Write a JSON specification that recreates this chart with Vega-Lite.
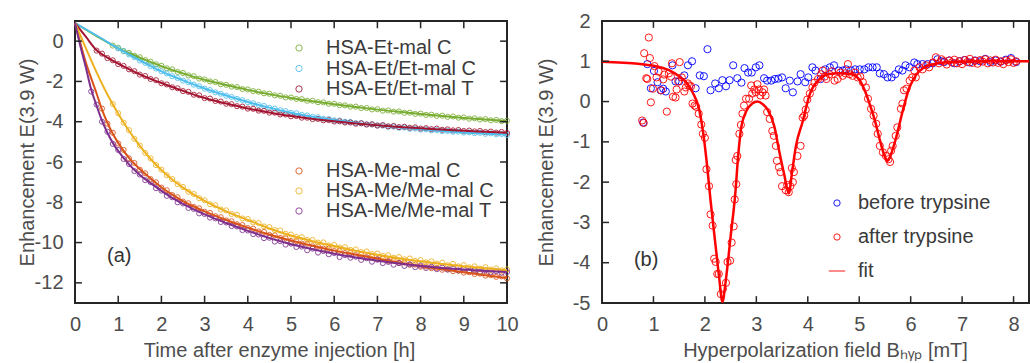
{
"$schema": "https://vega.github.io/schema/vega-lite/v6.json",
"padding": {"left": 16, "top": 10, "right": 0, "bottom": 0},
"spacing": 15,
"resolve": {"scale": {"color": "independent", "stroke": "independent", "shape": "independent", "strokeWidth": "independent"}},
"config": {
  "font": "Liberation Sans",
  "view": {"stroke": "#262626", "strokeWidth": 2},
  "axis": {"grid": false, "domain": false, "ticks": false, "labelFontSize": 20, "labelColor": "#4d4d4d", "titleFontSize": 20, "titleFontWeight": "normal", "titleColor": "#4d4d4d", "labelFlush": false, "labelOverlap": false, "labelBound": false},
  "axisX": {"labelPadding": 11},
  "axisY": {"labelPadding": 12},
  "legend": {"labelFontSize": 20, "labelColor": "#3a3a3a", "labelLimit": 300, "padding": 0}
},
"datasets": {
  "xt_a": [{"t":1},{"t":2},{"t":3},{"t":4},{"t":5},{"t":6},{"t":7},{"t":8},{"t":9}],
  "yt_a": [{"v":-12},{"v":-10},{"v":-8},{"v":-6},{"v":-4},{"v":-2},{"v":0}],
  "xt_b": [{"B":1},{"B":2},{"B":3},{"B":4},{"B":5},{"B":6},{"B":7},{"B":8}],
  "yt_b": [{"v":-4},{"v":-3},{"v":-2},{"v":-1},{"v":0},{"v":1}],
  "et": [
    {"s":"HSA-Et-mal C","t":0.875,"v":-0.22},{"s":"HSA-Et-mal C","t":1.0,"v":-0.33},{"s":"HSA-Et-mal C","t":1.125,"v":-0.49},{"s":"HSA-Et-mal C","t":1.25,"v":-0.58},{"s":"HSA-Et-mal C","t":1.375,"v":-0.72},{"s":"HSA-Et-mal C","t":1.5,"v":-0.80},{"s":"HSA-Et-mal C","t":1.625,"v":-0.94},{"s":"HSA-Et-mal C","t":1.75,"v":-1.02},{"s":"HSA-Et-mal C","t":1.875,"v":-1.15},{"s":"HSA-Et-mal C","t":2.0,"v":-1.22},{"s":"HSA-Et-mal C","t":2.125,"v":-1.35},{"s":"HSA-Et-mal C","t":2.25,"v":-1.40},{"s":"HSA-Et-mal C","t":2.375,"v":-1.53},{"s":"HSA-Et-mal C","t":2.5,"v":-1.58},{"s":"HSA-Et-mal C","t":2.625,"v":-1.70},{"s":"HSA-Et-mal C","t":2.75,"v":-1.74},{"s":"HSA-Et-mal C","t":2.875,"v":-1.86},{"s":"HSA-Et-mal C","t":3.0,"v":-1.90},{"s":"HSA-Et-mal C","t":3.125,"v":-2.00},{"s":"HSA-Et-mal C","t":3.25,"v":-2.03},{"s":"HSA-Et-mal C","t":3.375,"v":-2.14},{"s":"HSA-Et-mal C","t":3.5,"v":-2.17},{"s":"HSA-Et-mal C","t":3.625,"v":-2.26},{"s":"HSA-Et-mal C","t":3.75,"v":-2.28},{"s":"HSA-Et-mal C","t":3.875,"v":-2.38},{"s":"HSA-Et-mal C","t":4.0,"v":-2.40},{"s":"HSA-Et-mal C","t":4.125,"v":-2.48},{"s":"HSA-Et-mal C","t":4.25,"v":-2.51},{"s":"HSA-Et-mal C","t":4.375,"v":-2.59},{"s":"HSA-Et-mal C","t":4.5,"v":-2.61},{"s":"HSA-Et-mal C","t":4.625,"v":-2.69},{"s":"HSA-Et-mal C","t":4.75,"v":-2.71},{"s":"HSA-Et-mal C","t":4.875,"v":-2.79},{"s":"HSA-Et-mal C","t":5.0,"v":-2.80},{"s":"HSA-Et-mal C","t":5.125,"v":-2.87},{"s":"HSA-Et-mal C","t":5.25,"v":-2.88},{"s":"HSA-Et-mal C","t":5.375,"v":-2.96},{"s":"HSA-Et-mal C","t":5.5,"v":-2.96},{"s":"HSA-Et-mal C","t":5.625,"v":-3.03},{"s":"HSA-Et-mal C","t":5.75,"v":-3.04},{"s":"HSA-Et-mal C","t":5.875,"v":-3.11},{"s":"HSA-Et-mal C","t":6.0,"v":-3.11},{"s":"HSA-Et-mal C","t":6.125,"v":-3.18},{"s":"HSA-Et-mal C","t":6.25,"v":-3.19},{"s":"HSA-Et-mal C","t":6.375,"v":-3.25},{"s":"HSA-Et-mal C","t":6.5,"v":-3.25},{"s":"HSA-Et-mal C","t":6.625,"v":-3.32},{"s":"HSA-Et-mal C","t":6.75,"v":-3.32},{"s":"HSA-Et-mal C","t":6.875,"v":-3.39},{"s":"HSA-Et-mal C","t":7.0,"v":-3.38},{"s":"HSA-Et-mal C","t":7.125,"v":-3.45},{"s":"HSA-Et-mal C","t":7.25,"v":-3.44},{"s":"HSA-Et-mal C","t":7.375,"v":-3.50},{"s":"HSA-Et-mal C","t":7.5,"v":-3.49},{"s":"HSA-Et-mal C","t":7.625,"v":-3.56},{"s":"HSA-Et-mal C","t":7.75,"v":-3.55},{"s":"HSA-Et-mal C","t":7.875,"v":-3.61},{"s":"HSA-Et-mal C","t":8.0,"v":-3.60},{"s":"HSA-Et-mal C","t":8.125,"v":-3.66},{"s":"HSA-Et-mal C","t":8.25,"v":-3.65},{"s":"HSA-Et-mal C","t":8.375,"v":-3.71},{"s":"HSA-Et-mal C","t":8.5,"v":-3.70},{"s":"HSA-Et-mal C","t":8.625,"v":-3.76},{"s":"HSA-Et-mal C","t":8.75,"v":-3.74},{"s":"HSA-Et-mal C","t":8.875,"v":-3.80},{"s":"HSA-Et-mal C","t":9.0,"v":-3.79},{"s":"HSA-Et-mal C","t":9.125,"v":-3.85},{"s":"HSA-Et-mal C","t":9.25,"v":-3.83},{"s":"HSA-Et-mal C","t":9.375,"v":-3.89},{"s":"HSA-Et-mal C","t":9.5,"v":-3.87},{"s":"HSA-Et-mal C","t":9.625,"v":-3.93},{"s":"HSA-Et-mal C","t":9.75,"v":-3.91},{"s":"HSA-Et-mal C","t":9.875,"v":-3.97},{"s":"HSA-Et-mal C","t":10.0,"v":-3.95},
    {"s":"HSA-Et/Et-mal C","t":1.0,"v":-0.36},{"s":"HSA-Et/Et-mal C","t":1.125,"v":-0.50},{"s":"HSA-Et/Et-mal C","t":1.25,"v":-0.66},{"s":"HSA-Et/Et-mal C","t":1.375,"v":-0.80},{"s":"HSA-Et/Et-mal C","t":1.5,"v":-0.96},{"s":"HSA-Et/Et-mal C","t":1.625,"v":-1.08},{"s":"HSA-Et/Et-mal C","t":1.75,"v":-1.24},{"s":"HSA-Et/Et-mal C","t":1.875,"v":-1.36},{"s":"HSA-Et/Et-mal C","t":2.0,"v":-1.50},{"s":"HSA-Et/Et-mal C","t":2.125,"v":-1.60},{"s":"HSA-Et/Et-mal C","t":2.25,"v":-1.74},{"s":"HSA-Et/Et-mal C","t":2.375,"v":-1.83},{"s":"HSA-Et/Et-mal C","t":2.5,"v":-1.96},{"s":"HSA-Et/Et-mal C","t":2.625,"v":-2.04},{"s":"HSA-Et/Et-mal C","t":2.75,"v":-2.16},{"s":"HSA-Et/Et-mal C","t":2.875,"v":-2.24},{"s":"HSA-Et/Et-mal C","t":3.0,"v":-2.36},{"s":"HSA-Et/Et-mal C","t":3.125,"v":-2.43},{"s":"HSA-Et/Et-mal C","t":3.25,"v":-2.54},{"s":"HSA-Et/Et-mal C","t":3.375,"v":-2.61},{"s":"HSA-Et/Et-mal C","t":3.5,"v":-2.71},{"s":"HSA-Et/Et-mal C","t":3.625,"v":-2.77},{"s":"HSA-Et/Et-mal C","t":3.75,"v":-2.87},{"s":"HSA-Et/Et-mal C","t":3.875,"v":-2.93},{"s":"HSA-Et/Et-mal C","t":4.0,"v":-3.03},{"s":"HSA-Et/Et-mal C","t":4.125,"v":-3.08},{"s":"HSA-Et/Et-mal C","t":4.25,"v":-3.17},{"s":"HSA-Et/Et-mal C","t":4.375,"v":-3.22},{"s":"HSA-Et/Et-mal C","t":4.5,"v":-3.31},{"s":"HSA-Et/Et-mal C","t":4.625,"v":-3.35},{"s":"HSA-Et/Et-mal C","t":4.75,"v":-3.43},{"s":"HSA-Et/Et-mal C","t":4.875,"v":-3.47},{"s":"HSA-Et/Et-mal C","t":5.0,"v":-3.56},{"s":"HSA-Et/Et-mal C","t":5.125,"v":-3.58},{"s":"HSA-Et/Et-mal C","t":5.25,"v":-3.66},{"s":"HSA-Et/Et-mal C","t":5.375,"v":-3.69},{"s":"HSA-Et/Et-mal C","t":5.5,"v":-3.76},{"s":"HSA-Et/Et-mal C","t":5.625,"v":-3.78},{"s":"HSA-Et/Et-mal C","t":5.75,"v":-3.85},{"s":"HSA-Et/Et-mal C","t":5.875,"v":-3.87},{"s":"HSA-Et/Et-mal C","t":6.0,"v":-3.93},{"s":"HSA-Et/Et-mal C","t":6.125,"v":-3.94},{"s":"HSA-Et/Et-mal C","t":6.25,"v":-4.00},{"s":"HSA-Et/Et-mal C","t":6.375,"v":-4.01},{"s":"HSA-Et/Et-mal C","t":6.5,"v":-4.07},{"s":"HSA-Et/Et-mal C","t":6.625,"v":-4.07},{"s":"HSA-Et/Et-mal C","t":6.75,"v":-4.13},{"s":"HSA-Et/Et-mal C","t":6.875,"v":-4.13},{"s":"HSA-Et/Et-mal C","t":7.0,"v":-4.19},{"s":"HSA-Et/Et-mal C","t":7.125,"v":-4.19},{"s":"HSA-Et/Et-mal C","t":7.25,"v":-4.25},{"s":"HSA-Et/Et-mal C","t":7.375,"v":-4.24},{"s":"HSA-Et/Et-mal C","t":7.5,"v":-4.30},{"s":"HSA-Et/Et-mal C","t":7.625,"v":-4.29},{"s":"HSA-Et/Et-mal C","t":7.75,"v":-4.35},{"s":"HSA-Et/Et-mal C","t":7.875,"v":-4.34},{"s":"HSA-Et/Et-mal C","t":8.0,"v":-4.39},{"s":"HSA-Et/Et-mal C","t":8.125,"v":-4.38},{"s":"HSA-Et/Et-mal C","t":8.25,"v":-4.43},{"s":"HSA-Et/Et-mal C","t":8.375,"v":-4.42},{"s":"HSA-Et/Et-mal C","t":8.5,"v":-4.47},{"s":"HSA-Et/Et-mal C","t":8.625,"v":-4.46},{"s":"HSA-Et/Et-mal C","t":8.75,"v":-4.50},{"s":"HSA-Et/Et-mal C","t":8.875,"v":-4.49},{"s":"HSA-Et/Et-mal C","t":9.0,"v":-4.54},{"s":"HSA-Et/Et-mal C","t":9.125,"v":-4.53},{"s":"HSA-Et/Et-mal C","t":9.25,"v":-4.57},{"s":"HSA-Et/Et-mal C","t":9.375,"v":-4.55},{"s":"HSA-Et/Et-mal C","t":9.5,"v":-4.60},{"s":"HSA-Et/Et-mal C","t":9.625,"v":-4.58},{"s":"HSA-Et/Et-mal C","t":9.75,"v":-4.63},{"s":"HSA-Et/Et-mal C","t":9.875,"v":-4.61},{"s":"HSA-Et/Et-mal C","t":10.0,"v":-4.66},
    {"s":"HSA-Et/Et-mal T","t":0.5,"v":-0.47},{"s":"HSA-Et/Et-mal T","t":0.625,"v":-0.62},{"s":"HSA-Et/Et-mal T","t":0.75,"v":-0.84},{"s":"HSA-Et/Et-mal T","t":0.875,"v":-0.95},{"s":"HSA-Et/Et-mal T","t":1.0,"v":-1.14},{"s":"HSA-Et/Et-mal T","t":1.125,"v":-1.23},{"s":"HSA-Et/Et-mal T","t":1.25,"v":-1.40},{"s":"HSA-Et/Et-mal T","t":1.375,"v":-1.49},{"s":"HSA-Et/Et-mal T","t":1.5,"v":-1.66},{"s":"HSA-Et/Et-mal T","t":1.625,"v":-1.73},{"s":"HSA-Et/Et-mal T","t":1.75,"v":-1.88},{"s":"HSA-Et/Et-mal T","t":1.875,"v":-1.94},{"s":"HSA-Et/Et-mal T","t":2.0,"v":-2.09},{"s":"HSA-Et/Et-mal T","t":2.125,"v":-2.15},{"s":"HSA-Et/Et-mal T","t":2.25,"v":-2.29},{"s":"HSA-Et/Et-mal T","t":2.375,"v":-2.34},{"s":"HSA-Et/Et-mal T","t":2.5,"v":-2.48},{"s":"HSA-Et/Et-mal T","t":2.625,"v":-2.52},{"s":"HSA-Et/Et-mal T","t":2.75,"v":-2.66},{"s":"HSA-Et/Et-mal T","t":2.875,"v":-2.69},{"s":"HSA-Et/Et-mal T","t":3.0,"v":-2.83},{"s":"HSA-Et/Et-mal T","t":3.125,"v":-2.85},{"s":"HSA-Et/Et-mal T","t":3.25,"v":-2.97},{"s":"HSA-Et/Et-mal T","t":3.375,"v":-3.00},{"s":"HSA-Et/Et-mal T","t":3.5,"v":-3.11},{"s":"HSA-Et/Et-mal T","t":3.625,"v":-3.13},{"s":"HSA-Et/Et-mal T","t":3.75,"v":-3.23},{"s":"HSA-Et/Et-mal T","t":3.875,"v":-3.25},{"s":"HSA-Et/Et-mal T","t":4.0,"v":-3.35},{"s":"HSA-Et/Et-mal T","t":4.125,"v":-3.36},{"s":"HSA-Et/Et-mal T","t":4.25,"v":-3.45},{"s":"HSA-Et/Et-mal T","t":4.375,"v":-3.46},{"s":"HSA-Et/Et-mal T","t":4.5,"v":-3.55},{"s":"HSA-Et/Et-mal T","t":4.625,"v":-3.55},{"s":"HSA-Et/Et-mal T","t":4.75,"v":-3.64},{"s":"HSA-Et/Et-mal T","t":4.875,"v":-3.64},{"s":"HSA-Et/Et-mal T","t":5.0,"v":-3.73},{"s":"HSA-Et/Et-mal T","t":5.125,"v":-3.72},{"s":"HSA-Et/Et-mal T","t":5.25,"v":-3.80},{"s":"HSA-Et/Et-mal T","t":5.375,"v":-3.80},{"s":"HSA-Et/Et-mal T","t":5.5,"v":-3.87},{"s":"HSA-Et/Et-mal T","t":5.625,"v":-3.86},{"s":"HSA-Et/Et-mal T","t":5.75,"v":-3.93},{"s":"HSA-Et/Et-mal T","t":5.875,"v":-3.92},{"s":"HSA-Et/Et-mal T","t":6.0,"v":-3.99},{"s":"HSA-Et/Et-mal T","t":6.125,"v":-3.98},{"s":"HSA-Et/Et-mal T","t":6.25,"v":-4.04},{"s":"HSA-Et/Et-mal T","t":6.375,"v":-4.04},{"s":"HSA-Et/Et-mal T","t":6.5,"v":-4.10},{"s":"HSA-Et/Et-mal T","t":6.625,"v":-4.08},{"s":"HSA-Et/Et-mal T","t":6.75,"v":-4.14},{"s":"HSA-Et/Et-mal T","t":6.875,"v":-4.13},{"s":"HSA-Et/Et-mal T","t":7.0,"v":-4.19},{"s":"HSA-Et/Et-mal T","t":7.125,"v":-4.17},{"s":"HSA-Et/Et-mal T","t":7.25,"v":-4.23},{"s":"HSA-Et/Et-mal T","t":7.375,"v":-4.21},{"s":"HSA-Et/Et-mal T","t":7.5,"v":-4.27},{"s":"HSA-Et/Et-mal T","t":7.625,"v":-4.25},{"s":"HSA-Et/Et-mal T","t":7.75,"v":-4.30},{"s":"HSA-Et/Et-mal T","t":7.875,"v":-4.28},{"s":"HSA-Et/Et-mal T","t":8.0,"v":-4.34},{"s":"HSA-Et/Et-mal T","t":8.125,"v":-4.32},{"s":"HSA-Et/Et-mal T","t":8.25,"v":-4.37},{"s":"HSA-Et/Et-mal T","t":8.375,"v":-4.34},{"s":"HSA-Et/Et-mal T","t":8.5,"v":-4.40},{"s":"HSA-Et/Et-mal T","t":8.625,"v":-4.38},{"s":"HSA-Et/Et-mal T","t":8.75,"v":-4.43},{"s":"HSA-Et/Et-mal T","t":8.875,"v":-4.41},{"s":"HSA-Et/Et-mal T","t":9.0,"v":-4.46},{"s":"HSA-Et/Et-mal T","t":9.125,"v":-4.44},{"s":"HSA-Et/Et-mal T","t":9.25,"v":-4.48},{"s":"HSA-Et/Et-mal T","t":9.375,"v":-4.46},{"s":"HSA-Et/Et-mal T","t":9.5,"v":-4.51},{"s":"HSA-Et/Et-mal T","t":9.625,"v":-4.49},{"s":"HSA-Et/Et-mal T","t":9.75,"v":-4.54},{"s":"HSA-Et/Et-mal T","t":9.875,"v":-4.51},{"s":"HSA-Et/Et-mal T","t":10.0,"v":-4.56}
  ],
  "me": [
    {"s":"HSA-Me-mal C","t":0.625,"v":-3.35},{"s":"HSA-Me-mal C","t":0.75,"v":-4.10},{"s":"HSA-Me-mal C","t":0.875,"v":-4.55},{"s":"HSA-Me-mal C","t":1.0,"v":-5.08},{"s":"HSA-Me-mal C","t":1.125,"v":-5.40},{"s":"HSA-Me-mal C","t":1.25,"v":-5.82},{"s":"HSA-Me-mal C","t":1.375,"v":-6.05},{"s":"HSA-Me-mal C","t":1.5,"v":-6.38},{"s":"HSA-Me-mal C","t":1.625,"v":-6.56},{"s":"HSA-Me-mal C","t":1.75,"v":-6.85},{"s":"HSA-Me-mal C","t":1.875,"v":-7.01},{"s":"HSA-Me-mal C","t":2.0,"v":-7.27},{"s":"HSA-Me-mal C","t":2.125,"v":-7.40},{"s":"HSA-Me-mal C","t":2.25,"v":-7.64},{"s":"HSA-Me-mal C","t":2.375,"v":-7.75},{"s":"HSA-Me-mal C","t":2.5,"v":-7.96},{"s":"HSA-Me-mal C","t":2.625,"v":-8.05},{"s":"HSA-Me-mal C","t":2.75,"v":-8.23},{"s":"HSA-Me-mal C","t":2.875,"v":-8.30},{"s":"HSA-Me-mal C","t":3.0,"v":-8.47},{"s":"HSA-Me-mal C","t":3.125,"v":-8.53},{"s":"HSA-Me-mal C","t":3.25,"v":-8.69},{"s":"HSA-Me-mal C","t":3.375,"v":-8.74},{"s":"HSA-Me-mal C","t":3.5,"v":-8.90},{"s":"HSA-Me-mal C","t":3.625,"v":-8.94},{"s":"HSA-Me-mal C","t":3.75,"v":-9.09},{"s":"HSA-Me-mal C","t":3.875,"v":-9.13},{"s":"HSA-Me-mal C","t":4.0,"v":-9.28},{"s":"HSA-Me-mal C","t":4.125,"v":-9.31},{"s":"HSA-Me-mal C","t":4.25,"v":-9.45},{"s":"HSA-Me-mal C","t":4.375,"v":-9.47},{"s":"HSA-Me-mal C","t":4.5,"v":-9.62},{"s":"HSA-Me-mal C","t":4.625,"v":-9.64},{"s":"HSA-Me-mal C","t":4.75,"v":-9.77},{"s":"HSA-Me-mal C","t":4.875,"v":-9.79},{"s":"HSA-Me-mal C","t":5.0,"v":-9.92},{"s":"HSA-Me-mal C","t":5.125,"v":-9.93},{"s":"HSA-Me-mal C","t":5.25,"v":-10.05},{"s":"HSA-Me-mal C","t":5.375,"v":-10.06},{"s":"HSA-Me-mal C","t":5.5,"v":-10.18},{"s":"HSA-Me-mal C","t":5.625,"v":-10.19},{"s":"HSA-Me-mal C","t":5.75,"v":-10.30},{"s":"HSA-Me-mal C","t":5.875,"v":-10.30},{"s":"HSA-Me-mal C","t":6.0,"v":-10.42},{"s":"HSA-Me-mal C","t":6.125,"v":-10.41},{"s":"HSA-Me-mal C","t":6.25,"v":-10.52},{"s":"HSA-Me-mal C","t":6.375,"v":-10.51},{"s":"HSA-Me-mal C","t":6.5,"v":-10.62},{"s":"HSA-Me-mal C","t":6.625,"v":-10.60},{"s":"HSA-Me-mal C","t":6.75,"v":-10.72},{"s":"HSA-Me-mal C","t":6.875,"v":-10.70},{"s":"HSA-Me-mal C","t":7.0,"v":-10.82},{"s":"HSA-Me-mal C","t":7.125,"v":-10.80},{"s":"HSA-Me-mal C","t":7.25,"v":-10.91},{"s":"HSA-Me-mal C","t":7.375,"v":-10.90},{"s":"HSA-Me-mal C","t":7.5,"v":-11.01},{"s":"HSA-Me-mal C","t":7.625,"v":-10.99},{"s":"HSA-Me-mal C","t":7.75,"v":-11.10},{"s":"HSA-Me-mal C","t":7.875,"v":-11.09},{"s":"HSA-Me-mal C","t":8.0,"v":-11.20},{"s":"HSA-Me-mal C","t":8.125,"v":-11.18},{"s":"HSA-Me-mal C","t":8.25,"v":-11.27},{"s":"HSA-Me-mal C","t":8.375,"v":-11.26},{"s":"HSA-Me-mal C","t":8.5,"v":-11.35},{"s":"HSA-Me-mal C","t":8.625,"v":-11.33},{"s":"HSA-Me-mal C","t":8.75,"v":-11.42},{"s":"HSA-Me-mal C","t":8.875,"v":-11.40},{"s":"HSA-Me-mal C","t":9.0,"v":-11.49},{"s":"HSA-Me-mal C","t":9.125,"v":-11.47},{"s":"HSA-Me-mal C","t":9.25,"v":-11.56},{"s":"HSA-Me-mal C","t":9.375,"v":-11.54},{"s":"HSA-Me-mal C","t":9.5,"v":-11.64},{"s":"HSA-Me-mal C","t":9.625,"v":-11.62},{"s":"HSA-Me-mal C","t":9.75,"v":-11.70},{"s":"HSA-Me-mal C","t":9.875,"v":-11.68},{"s":"HSA-Me-mal C","t":10.0,"v":-11.78},
    {"s":"HSA-Me/Me-mal C","t":0.875,"v":-3.12},{"s":"HSA-Me/Me-mal C","t":1.0,"v":-3.58},{"s":"HSA-Me/Me-mal C","t":1.125,"v":-4.05},{"s":"HSA-Me/Me-mal C","t":1.25,"v":-4.42},{"s":"HSA-Me/Me-mal C","t":1.375,"v":-4.85},{"s":"HSA-Me/Me-mal C","t":1.5,"v":-5.18},{"s":"HSA-Me/Me-mal C","t":1.625,"v":-5.55},{"s":"HSA-Me/Me-mal C","t":1.75,"v":-5.82},{"s":"HSA-Me/Me-mal C","t":1.875,"v":-6.15},{"s":"HSA-Me/Me-mal C","t":2.0,"v":-6.38},{"s":"HSA-Me/Me-mal C","t":2.125,"v":-6.66},{"s":"HSA-Me/Me-mal C","t":2.25,"v":-6.85},{"s":"HSA-Me/Me-mal C","t":2.375,"v":-7.10},{"s":"HSA-Me/Me-mal C","t":2.5,"v":-7.24},{"s":"HSA-Me/Me-mal C","t":2.625,"v":-7.48},{"s":"HSA-Me/Me-mal C","t":2.75,"v":-7.59},{"s":"HSA-Me/Me-mal C","t":2.875,"v":-7.80},{"s":"HSA-Me/Me-mal C","t":3.0,"v":-7.90},{"s":"HSA-Me/Me-mal C","t":3.125,"v":-8.10},{"s":"HSA-Me/Me-mal C","t":3.25,"v":-8.15},{"s":"HSA-Me/Me-mal C","t":3.375,"v":-8.36},{"s":"HSA-Me/Me-mal C","t":3.5,"v":-8.40},{"s":"HSA-Me/Me-mal C","t":3.625,"v":-8.58},{"s":"HSA-Me/Me-mal C","t":3.75,"v":-8.62},{"s":"HSA-Me/Me-mal C","t":3.875,"v":-8.80},{"s":"HSA-Me/Me-mal C","t":4.0,"v":-8.83},{"s":"HSA-Me/Me-mal C","t":4.125,"v":-9.00},{"s":"HSA-Me/Me-mal C","t":4.25,"v":-9.03},{"s":"HSA-Me/Me-mal C","t":4.375,"v":-9.20},{"s":"HSA-Me/Me-mal C","t":4.5,"v":-9.23},{"s":"HSA-Me/Me-mal C","t":4.625,"v":-9.38},{"s":"HSA-Me/Me-mal C","t":4.75,"v":-9.40},{"s":"HSA-Me/Me-mal C","t":4.875,"v":-9.56},{"s":"HSA-Me/Me-mal C","t":5.0,"v":-9.60},{"s":"HSA-Me/Me-mal C","t":5.125,"v":-9.72},{"s":"HSA-Me/Me-mal C","t":5.25,"v":-9.73},{"s":"HSA-Me/Me-mal C","t":5.375,"v":-9.87},{"s":"HSA-Me/Me-mal C","t":5.5,"v":-9.87},{"s":"HSA-Me/Me-mal C","t":5.625,"v":-10.00},{"s":"HSA-Me/Me-mal C","t":5.75,"v":-9.99},{"s":"HSA-Me/Me-mal C","t":5.875,"v":-10.14},{"s":"HSA-Me/Me-mal C","t":6.0,"v":-10.12},{"s":"HSA-Me/Me-mal C","t":6.125,"v":-10.25},{"s":"HSA-Me/Me-mal C","t":6.25,"v":-10.23},{"s":"HSA-Me/Me-mal C","t":6.375,"v":-10.36},{"s":"HSA-Me/Me-mal C","t":6.5,"v":-10.34},{"s":"HSA-Me/Me-mal C","t":6.625,"v":-10.47},{"s":"HSA-Me/Me-mal C","t":6.75,"v":-10.44},{"s":"HSA-Me/Me-mal C","t":6.875,"v":-10.57},{"s":"HSA-Me/Me-mal C","t":7.0,"v":-10.54},{"s":"HSA-Me/Me-mal C","t":7.125,"v":-10.66},{"s":"HSA-Me/Me-mal C","t":7.25,"v":-10.63},{"s":"HSA-Me/Me-mal C","t":7.375,"v":-10.75},{"s":"HSA-Me/Me-mal C","t":7.5,"v":-10.72},{"s":"HSA-Me/Me-mal C","t":7.625,"v":-10.83},{"s":"HSA-Me/Me-mal C","t":7.75,"v":-10.79},{"s":"HSA-Me/Me-mal C","t":7.875,"v":-10.91},{"s":"HSA-Me/Me-mal C","t":8.0,"v":-10.87},{"s":"HSA-Me/Me-mal C","t":8.125,"v":-10.98},{"s":"HSA-Me/Me-mal C","t":8.25,"v":-10.93},{"s":"HSA-Me/Me-mal C","t":8.375,"v":-11.05},{"s":"HSA-Me/Me-mal C","t":8.5,"v":-11.00},{"s":"HSA-Me/Me-mal C","t":8.625,"v":-11.12},{"s":"HSA-Me/Me-mal C","t":8.75,"v":-11.06},{"s":"HSA-Me/Me-mal C","t":8.875,"v":-11.18},{"s":"HSA-Me/Me-mal C","t":9.0,"v":-11.12},{"s":"HSA-Me/Me-mal C","t":9.125,"v":-11.23},{"s":"HSA-Me/Me-mal C","t":9.25,"v":-11.18},{"s":"HSA-Me/Me-mal C","t":9.375,"v":-11.29},{"s":"HSA-Me/Me-mal C","t":9.5,"v":-11.22},{"s":"HSA-Me/Me-mal C","t":9.625,"v":-11.34},{"s":"HSA-Me/Me-mal C","t":9.75,"v":-11.28},{"s":"HSA-Me/Me-mal C","t":9.875,"v":-11.38},{"s":"HSA-Me/Me-mal C","t":10.0,"v":-11.33},
    {"s":"HSA-Me/Me-mal T","t":0.375,"v":-2.50},{"s":"HSA-Me/Me-mal T","t":0.5,"v":-3.15},{"s":"HSA-Me/Me-mal T","t":0.625,"v":-4.00},{"s":"HSA-Me/Me-mal T","t":0.75,"v":-4.50},{"s":"HSA-Me/Me-mal T","t":0.875,"v":-5.10},{"s":"HSA-Me/Me-mal T","t":1.0,"v":-5.40},{"s":"HSA-Me/Me-mal T","t":1.125,"v":-5.85},{"s":"HSA-Me/Me-mal T","t":1.25,"v":-6.10},{"s":"HSA-Me/Me-mal T","t":1.375,"v":-6.45},{"s":"HSA-Me/Me-mal T","t":1.5,"v":-6.62},{"s":"HSA-Me/Me-mal T","t":1.625,"v":-6.90},{"s":"HSA-Me/Me-mal T","t":1.75,"v":-7.00},{"s":"HSA-Me/Me-mal T","t":1.875,"v":-7.30},{"s":"HSA-Me/Me-mal T","t":2.0,"v":-7.42},{"s":"HSA-Me/Me-mal T","t":2.125,"v":-7.68},{"s":"HSA-Me/Me-mal T","t":2.25,"v":-7.75},{"s":"HSA-Me/Me-mal T","t":2.375,"v":-8.00},{"s":"HSA-Me/Me-mal T","t":2.5,"v":-8.06},{"s":"HSA-Me/Me-mal T","t":2.625,"v":-8.28},{"s":"HSA-Me/Me-mal T","t":2.75,"v":-8.33},{"s":"HSA-Me/Me-mal T","t":2.875,"v":-8.55},{"s":"HSA-Me/Me-mal T","t":3.0,"v":-8.58},{"s":"HSA-Me/Me-mal T","t":3.125,"v":-8.76},{"s":"HSA-Me/Me-mal T","t":3.25,"v":-8.80},{"s":"HSA-Me/Me-mal T","t":3.375,"v":-8.98},{"s":"HSA-Me/Me-mal T","t":3.5,"v":-9.00},{"s":"HSA-Me/Me-mal T","t":3.625,"v":-9.18},{"s":"HSA-Me/Me-mal T","t":3.75,"v":-9.20},{"s":"HSA-Me/Me-mal T","t":3.875,"v":-9.38},{"s":"HSA-Me/Me-mal T","t":4.0,"v":-9.40},{"s":"HSA-Me/Me-mal T","t":4.125,"v":-9.58},{"s":"HSA-Me/Me-mal T","t":4.25,"v":-9.60},{"s":"HSA-Me/Me-mal T","t":4.375,"v":-9.78},{"s":"HSA-Me/Me-mal T","t":4.5,"v":-9.76},{"s":"HSA-Me/Me-mal T","t":4.625,"v":-9.95},{"s":"HSA-Me/Me-mal T","t":4.75,"v":-9.93},{"s":"HSA-Me/Me-mal T","t":4.875,"v":-10.10},{"s":"HSA-Me/Me-mal T","t":5.0,"v":-10.05},{"s":"HSA-Me/Me-mal T","t":5.125,"v":-10.22},{"s":"HSA-Me/Me-mal T","t":5.25,"v":-10.20},{"s":"HSA-Me/Me-mal T","t":5.375,"v":-10.38},{"s":"HSA-Me/Me-mal T","t":5.5,"v":-10.30},{"s":"HSA-Me/Me-mal T","t":5.625,"v":-10.50},{"s":"HSA-Me/Me-mal T","t":5.75,"v":-10.42},{"s":"HSA-Me/Me-mal T","t":5.875,"v":-10.58},{"s":"HSA-Me/Me-mal T","t":6.0,"v":-10.52},{"s":"HSA-Me/Me-mal T","t":6.125,"v":-10.72},{"s":"HSA-Me/Me-mal T","t":6.25,"v":-10.62},{"s":"HSA-Me/Me-mal T","t":6.375,"v":-10.75},{"s":"HSA-Me/Me-mal T","t":6.5,"v":-10.70},{"s":"HSA-Me/Me-mal T","t":6.625,"v":-10.86},{"s":"HSA-Me/Me-mal T","t":6.75,"v":-10.78},{"s":"HSA-Me/Me-mal T","t":6.875,"v":-10.95},{"s":"HSA-Me/Me-mal T","t":7.0,"v":-10.85},{"s":"HSA-Me/Me-mal T","t":7.125,"v":-11.02},{"s":"HSA-Me/Me-mal T","t":7.25,"v":-10.96},{"s":"HSA-Me/Me-mal T","t":7.375,"v":-11.10},{"s":"HSA-Me/Me-mal T","t":7.5,"v":-11.02},{"s":"HSA-Me/Me-mal T","t":7.625,"v":-11.16},{"s":"HSA-Me/Me-mal T","t":7.75,"v":-11.08},{"s":"HSA-Me/Me-mal T","t":7.875,"v":-11.22},{"s":"HSA-Me/Me-mal T","t":8.0,"v":-11.14},{"s":"HSA-Me/Me-mal T","t":8.125,"v":-11.26},{"s":"HSA-Me/Me-mal T","t":8.25,"v":-11.20},{"s":"HSA-Me/Me-mal T","t":8.375,"v":-11.32},{"s":"HSA-Me/Me-mal T","t":8.5,"v":-11.24},{"s":"HSA-Me/Me-mal T","t":8.625,"v":-11.34},{"s":"HSA-Me/Me-mal T","t":8.75,"v":-11.28},{"s":"HSA-Me/Me-mal T","t":8.875,"v":-11.38},{"s":"HSA-Me/Me-mal T","t":9.0,"v":-11.30},{"s":"HSA-Me/Me-mal T","t":9.125,"v":-11.40},{"s":"HSA-Me/Me-mal T","t":9.25,"v":-11.36},{"s":"HSA-Me/Me-mal T","t":9.375,"v":-11.45},{"s":"HSA-Me/Me-mal T","t":9.5,"v":-11.38},{"s":"HSA-Me/Me-mal T","t":9.625,"v":-11.48},{"s":"HSA-Me/Me-mal T","t":9.75,"v":-11.42},{"s":"HSA-Me/Me-mal T","t":9.875,"v":-11.50},{"s":"HSA-Me/Me-mal T","t":10.0,"v":-11.46}
  ],
  "etfit": [
    {"s":"HSA-Et-mal C","t":0,"v":0.9},{"s":"HSA-Et-mal C","t":0.5,"v":0.25},{"s":"HSA-Et-mal C","t":1,"v":-0.35},{"s":"HSA-Et-mal C","t":1.5,"v":-0.82},{"s":"HSA-Et-mal C","t":2,"v":-1.24},{"s":"HSA-Et-mal C","t":2.5,"v":-1.6},{"s":"HSA-Et-mal C","t":3,"v":-1.92},{"s":"HSA-Et-mal C","t":3.5,"v":-2.18},{"s":"HSA-Et-mal C","t":4,"v":-2.42},{"s":"HSA-Et-mal C","t":4.5,"v":-2.63},{"s":"HSA-Et-mal C","t":5,"v":-2.82},{"s":"HSA-Et-mal C","t":5.5,"v":-2.98},{"s":"HSA-Et-mal C","t":6,"v":-3.13},{"s":"HSA-Et-mal C","t":6.5,"v":-3.27},{"s":"HSA-Et-mal C","t":7,"v":-3.4},{"s":"HSA-Et-mal C","t":7.5,"v":-3.51},{"s":"HSA-Et-mal C","t":8,"v":-3.62},{"s":"HSA-Et-mal C","t":8.5,"v":-3.72},{"s":"HSA-Et-mal C","t":9,"v":-3.81},{"s":"HSA-Et-mal C","t":9.5,"v":-3.89},{"s":"HSA-Et-mal C","t":10,"v":-3.97},
    {"s":"HSA-Et/Et-mal C","t":0,"v":0.9},{"s":"HSA-Et/Et-mal C","t":0.5,"v":0.28},{"s":"HSA-Et/Et-mal C","t":1,"v":-0.36},{"s":"HSA-Et/Et-mal C","t":1.5,"v":-0.95},{"s":"HSA-Et/Et-mal C","t":2,"v":-1.5},{"s":"HSA-Et/Et-mal C","t":2.5,"v":-1.95},{"s":"HSA-Et/Et-mal C","t":3,"v":-2.35},{"s":"HSA-Et/Et-mal C","t":3.5,"v":-2.7},{"s":"HSA-Et/Et-mal C","t":4,"v":-3.02},{"s":"HSA-Et/Et-mal C","t":4.5,"v":-3.3},{"s":"HSA-Et/Et-mal C","t":5,"v":-3.55},{"s":"HSA-Et/Et-mal C","t":5.5,"v":-3.75},{"s":"HSA-Et/Et-mal C","t":6,"v":-3.92},{"s":"HSA-Et/Et-mal C","t":6.5,"v":-4.06},{"s":"HSA-Et/Et-mal C","t":7,"v":-4.18},{"s":"HSA-Et/Et-mal C","t":7.5,"v":-4.29},{"s":"HSA-Et/Et-mal C","t":8,"v":-4.38},{"s":"HSA-Et/Et-mal C","t":8.5,"v":-4.46},{"s":"HSA-Et/Et-mal C","t":9,"v":-4.53},{"s":"HSA-Et/Et-mal C","t":9.5,"v":-4.59},{"s":"HSA-Et/Et-mal C","t":10,"v":-4.65},
    {"s":"HSA-Et/Et-mal T","t":0,"v":0.9},{"s":"HSA-Et/Et-mal T","t":0.25,"v":0.22},{"s":"HSA-Et/Et-mal T","t":0.5,"v":-0.45},{"s":"HSA-Et/Et-mal T","t":0.75,"v":-0.82},{"s":"HSA-Et/Et-mal T","t":1,"v":-1.12},{"s":"HSA-Et/Et-mal T","t":1.5,"v":-1.65},{"s":"HSA-Et/Et-mal T","t":2,"v":-2.08},{"s":"HSA-Et/Et-mal T","t":2.5,"v":-2.47},{"s":"HSA-Et/Et-mal T","t":3,"v":-2.82},{"s":"HSA-Et/Et-mal T","t":3.5,"v":-3.1},{"s":"HSA-Et/Et-mal T","t":4,"v":-3.34},{"s":"HSA-Et/Et-mal T","t":4.5,"v":-3.54},{"s":"HSA-Et/Et-mal T","t":5,"v":-3.72},{"s":"HSA-Et/Et-mal T","t":5.5,"v":-3.86},{"s":"HSA-Et/Et-mal T","t":6,"v":-3.98},{"s":"HSA-Et/Et-mal T","t":6.5,"v":-4.09},{"s":"HSA-Et/Et-mal T","t":7,"v":-4.18},{"s":"HSA-Et/Et-mal T","t":7.5,"v":-4.26},{"s":"HSA-Et/Et-mal T","t":8,"v":-4.33},{"s":"HSA-Et/Et-mal T","t":8.5,"v":-4.39},{"s":"HSA-Et/Et-mal T","t":9,"v":-4.45},{"s":"HSA-Et/Et-mal T","t":9.5,"v":-4.5},{"s":"HSA-Et/Et-mal T","t":10,"v":-4.55}
  ],
  "mefit": [
    {"s":"HSA-Me-mal C","t":0,"v":0.9},{"s":"HSA-Me-mal C","t":0.25,"v":-1.05},{"s":"HSA-Me-mal C","t":0.5,"v":-2.6},{"s":"HSA-Me-mal C","t":0.625,"v":-3.4},{"s":"HSA-Me-mal C","t":0.75,"v":-4.05},{"s":"HSA-Me-mal C","t":0.875,"v":-4.6},{"s":"HSA-Me-mal C","t":1,"v":-5.05},{"s":"HSA-Me-mal C","t":1.25,"v":-5.8},{"s":"HSA-Me-mal C","t":1.5,"v":-6.35},{"s":"HSA-Me-mal C","t":1.75,"v":-6.82},{"s":"HSA-Me-mal C","t":2,"v":-7.25},{"s":"HSA-Me-mal C","t":2.25,"v":-7.62},{"s":"HSA-Me-mal C","t":2.5,"v":-7.94},{"s":"HSA-Me-mal C","t":2.75,"v":-8.21},{"s":"HSA-Me-mal C","t":3,"v":-8.45},{"s":"HSA-Me-mal C","t":3.5,"v":-8.88},{"s":"HSA-Me-mal C","t":4,"v":-9.26},{"s":"HSA-Me-mal C","t":4.5,"v":-9.6},{"s":"HSA-Me-mal C","t":5,"v":-9.9},{"s":"HSA-Me-mal C","t":5.5,"v":-10.16},{"s":"HSA-Me-mal C","t":6,"v":-10.4},{"s":"HSA-Me-mal C","t":6.5,"v":-10.6},{"s":"HSA-Me-mal C","t":7,"v":-10.8},{"s":"HSA-Me-mal C","t":7.5,"v":-10.99},{"s":"HSA-Me-mal C","t":8,"v":-11.18},{"s":"HSA-Me-mal C","t":8.5,"v":-11.33},{"s":"HSA-Me-mal C","t":9,"v":-11.47},{"s":"HSA-Me-mal C","t":9.5,"v":-11.62},{"s":"HSA-Me-mal C","t":10,"v":-11.76},
    {"s":"HSA-Me/Me-mal C","t":0,"v":0.9},{"s":"HSA-Me/Me-mal C","t":0.25,"v":-0.35},{"s":"HSA-Me/Me-mal C","t":0.5,"v":-1.55},{"s":"HSA-Me/Me-mal C","t":0.75,"v":-2.65},{"s":"HSA-Me/Me-mal C","t":1,"v":-3.6},{"s":"HSA-Me/Me-mal C","t":1.25,"v":-4.45},{"s":"HSA-Me/Me-mal C","t":1.5,"v":-5.2},{"s":"HSA-Me/Me-mal C","t":1.75,"v":-5.85},{"s":"HSA-Me/Me-mal C","t":2,"v":-6.4},{"s":"HSA-Me/Me-mal C","t":2.25,"v":-6.87},{"s":"HSA-Me/Me-mal C","t":2.5,"v":-7.27},{"s":"HSA-Me/Me-mal C","t":2.75,"v":-7.62},{"s":"HSA-Me/Me-mal C","t":3,"v":-7.93},{"s":"HSA-Me/Me-mal C","t":3.5,"v":-8.45},{"s":"HSA-Me/Me-mal C","t":4,"v":-8.88},{"s":"HSA-Me/Me-mal C","t":4.5,"v":-9.3},{"s":"HSA-Me/Me-mal C","t":5,"v":-9.65},{"s":"HSA-Me/Me-mal C","t":5.5,"v":-9.93},{"s":"HSA-Me/Me-mal C","t":6,"v":-10.17},{"s":"HSA-Me/Me-mal C","t":6.5,"v":-10.4},{"s":"HSA-Me/Me-mal C","t":7,"v":-10.6},{"s":"HSA-Me/Me-mal C","t":7.5,"v":-10.78},{"s":"HSA-Me/Me-mal C","t":8,"v":-10.93},{"s":"HSA-Me/Me-mal C","t":8.5,"v":-11.06},{"s":"HSA-Me/Me-mal C","t":9,"v":-11.18},{"s":"HSA-Me/Me-mal C","t":9.5,"v":-11.28},{"s":"HSA-Me/Me-mal C","t":10,"v":-11.37},
    {"s":"HSA-Me/Me-mal T","t":0,"v":0.9},{"s":"HSA-Me/Me-mal T","t":0.125,"v":-0.25},{"s":"HSA-Me/Me-mal T","t":0.25,"v":-1.3},{"s":"HSA-Me/Me-mal T","t":0.375,"v":-2.4},{"s":"HSA-Me/Me-mal T","t":0.5,"v":-3.2},{"s":"HSA-Me/Me-mal T","t":0.625,"v":-3.95},{"s":"HSA-Me/Me-mal T","t":0.75,"v":-4.55},{"s":"HSA-Me/Me-mal T","t":0.875,"v":-5.05},{"s":"HSA-Me/Me-mal T","t":1,"v":-5.45},{"s":"HSA-Me/Me-mal T","t":1.25,"v":-6.12},{"s":"HSA-Me/Me-mal T","t":1.5,"v":-6.64},{"s":"HSA-Me/Me-mal T","t":1.75,"v":-7.05},{"s":"HSA-Me/Me-mal T","t":2,"v":-7.43},{"s":"HSA-Me/Me-mal T","t":2.25,"v":-7.78},{"s":"HSA-Me/Me-mal T","t":2.5,"v":-8.08},{"s":"HSA-Me/Me-mal T","t":2.75,"v":-8.35},{"s":"HSA-Me/Me-mal T","t":3,"v":-8.6},{"s":"HSA-Me/Me-mal T","t":3.5,"v":-9.03},{"s":"HSA-Me/Me-mal T","t":4,"v":-9.42},{"s":"HSA-Me/Me-mal T","t":4.5,"v":-9.78},{"s":"HSA-Me/Me-mal T","t":5,"v":-10.08},{"s":"HSA-Me/Me-mal T","t":5.5,"v":-10.33},{"s":"HSA-Me/Me-mal T","t":6,"v":-10.55},{"s":"HSA-Me/Me-mal T","t":6.5,"v":-10.74},{"s":"HSA-Me/Me-mal T","t":7,"v":-10.9},{"s":"HSA-Me/Me-mal T","t":7.5,"v":-11.04},{"s":"HSA-Me/Me-mal T","t":8,"v":-11.16},{"s":"HSA-Me/Me-mal T","t":8.5,"v":-11.26},{"s":"HSA-Me/Me-mal T","t":9,"v":-11.34},{"s":"HSA-Me/Me-mal T","t":9.5,"v":-11.41},{"s":"HSA-Me/Me-mal T","t":10,"v":-11.46}
  ],
  "bt": [
    {"s":"before trypsine","B":0.80,"v":-0.52},{"s":"before trypsine","B":0.88,"v":0.93},{"s":"before trypsine","B":0.95,"v":0.33},{"s":"before trypsine","B":1.01,"v":0.76},{"s":"before trypsine","B":1.08,"v":0.48},{"s":"before trypsine","B":1.14,"v":0.28},{"s":"before trypsine","B":1.19,"v":0.32},{"s":"before trypsine","B":1.24,"v":0.25},{"s":"before trypsine","B":1.37,"v":0.9},{"s":"before trypsine","B":1.43,"v":0.5},{"s":"before trypsine","B":1.50,"v":0.5},{"s":"before trypsine","B":1.60,"v":0.65},{"s":"before trypsine","B":1.67,"v":0.9},{"s":"before trypsine","B":1.75,"v":1.0},{"s":"before trypsine","B":1.82,"v":0.33},{"s":"before trypsine","B":1.90,"v":0.65},{"s":"before trypsine","B":1.98,"v":0.63},{"s":"before trypsine","B":2.05,"v":1.3},{"s":"before trypsine","B":2.11,"v":0.28},{"s":"before trypsine","B":2.20,"v":0.45},{"s":"before trypsine","B":2.27,"v":0.33},{"s":"before trypsine","B":2.34,"v":0.53},{"s":"before trypsine","B":2.41,"v":0.38},{"s":"before trypsine","B":2.48,"v":0.53},{"s":"before trypsine","B":2.55,"v":0.9},{"s":"before trypsine","B":2.63,"v":0.58},{"s":"before trypsine","B":2.71,"v":0.47},{"s":"before trypsine","B":2.77,"v":0.83},{"s":"before trypsine","B":2.84,"v":0.72},{"s":"before trypsine","B":2.91,"v":0.72},{"s":"before trypsine","B":2.99,"v":0.85},{"s":"before trypsine","B":3.06,"v":0.9},{"s":"before trypsine","B":3.15,"v":0.58},{"s":"before trypsine","B":3.21,"v":0.52},{"s":"before trypsine","B":3.29,"v":0.52},{"s":"before trypsine","B":3.36,"v":0.56},{"s":"before trypsine","B":3.43,"v":0.57},{"s":"before trypsine","B":3.50,"v":0.6},{"s":"before trypsine","B":3.57,"v":0.33},{"s":"before trypsine","B":3.65,"v":0.52},{"s":"before trypsine","B":3.71,"v":0.23},{"s":"before trypsine","B":3.80,"v":0.5},{"s":"before trypsine","B":3.86,"v":0.68},{"s":"before trypsine","B":3.95,"v":0.48},{"s":"before trypsine","B":4.01,"v":0.6},{"s":"before trypsine","B":4.09,"v":0.85},{"s":"before trypsine","B":4.15,"v":0.77},{"s":"before trypsine","B":4.25,"v":0.56},{"s":"before trypsine","B":4.34,"v":0.8},{"s":"before trypsine","B":4.43,"v":0.85},{"s":"before trypsine","B":4.51,"v":0.9},{"s":"before trypsine","B":4.60,"v":0.77},{"s":"before trypsine","B":4.68,"v":0.77},{"s":"before trypsine","B":4.75,"v":0.8},{"s":"before trypsine","B":4.84,"v":0.77},{"s":"before trypsine","B":4.92,"v":0.8},{"s":"before trypsine","B":5.01,"v":0.8},{"s":"before trypsine","B":5.10,"v":0.8},{"s":"before trypsine","B":5.18,"v":0.85},{"s":"before trypsine","B":5.26,"v":0.85},{"s":"before trypsine","B":5.34,"v":0.85},{"s":"before trypsine","B":5.40,"v":0.7},{"s":"before trypsine","B":5.48,"v":0.68},{"s":"before trypsine","B":5.55,"v":0.6},{"s":"before trypsine","B":5.63,"v":0.6},{"s":"before trypsine","B":5.70,"v":0.68},{"s":"before trypsine","B":5.77,"v":0.8},{"s":"before trypsine","B":5.84,"v":0.77},{"s":"before trypsine","B":5.90,"v":0.9},{"s":"before trypsine","B":5.98,"v":0.85},{"s":"before trypsine","B":6.07,"v":0.97},{"s":"before trypsine","B":6.13,"v":0.93},{"s":"before trypsine","B":6.23,"v":0.93},{"s":"before trypsine","B":6.33,"v":0.93},{"s":"before trypsine","B":6.43,"v":0.95},{"s":"before trypsine","B":6.52,"v":1.05},{"s":"before trypsine","B":6.59,"v":1.0},{"s":"before trypsine","B":6.65,"v":0.98},{"s":"before trypsine","B":6.75,"v":1.02},{"s":"before trypsine","B":6.85,"v":0.95},{"s":"before trypsine","B":6.95,"v":1.0},{"s":"before trypsine","B":7.05,"v":1.03},{"s":"before trypsine","B":7.15,"v":0.97},{"s":"before trypsine","B":7.25,"v":1.02},{"s":"before trypsine","B":7.35,"v":1.0},{"s":"before trypsine","B":7.45,"v":1.06},{"s":"before trypsine","B":7.55,"v":0.98},{"s":"before trypsine","B":7.65,"v":1.02},{"s":"before trypsine","B":7.75,"v":0.99},{"s":"before trypsine","B":7.85,"v":1.04},{"s":"before trypsine","B":7.95,"v":1.08},{"s":"before trypsine","B":8.05,"v":0.98},
    {"s":"after trypsine","B":0.78,"v":-0.47},{"s":"after trypsine","B":0.81,"v":-0.53},{"s":"after trypsine","B":0.82,"v":1.2},{"s":"after trypsine","B":0.86,"v":0.58},{"s":"after trypsine","B":0.88,"v":0.56},{"s":"after trypsine","B":0.91,"v":1.59},{"s":"after trypsine","B":0.93,"v":1.08},{"s":"after trypsine","B":0.95,"v":-0.02},{"s":"after trypsine","B":0.99,"v":0.32},{"s":"after trypsine","B":1.02,"v":0.88},{"s":"after trypsine","B":1.06,"v":0.6},{"s":"after trypsine","B":1.10,"v":0.74},{"s":"after trypsine","B":1.15,"v":0.28},{"s":"after trypsine","B":1.19,"v":0.55},{"s":"after trypsine","B":1.21,"v":0.67},{"s":"after trypsine","B":1.26,"v":-0.25},{"s":"after trypsine","B":1.30,"v":0.7},{"s":"after trypsine","B":1.34,"v":0.62},{"s":"after trypsine","B":1.36,"v":0.95},{"s":"after trypsine","B":1.38,"v":0.12},{"s":"after trypsine","B":1.43,"v":0.1},{"s":"after trypsine","B":1.45,"v":0.3},{"s":"after trypsine","B":1.48,"v":0.5},{"s":"after trypsine","B":1.51,"v":0.98},{"s":"after trypsine","B":1.55,"v":0.6},{"s":"after trypsine","B":1.60,"v":0.25},{"s":"after trypsine","B":1.63,"v":0.35},{"s":"after trypsine","B":1.67,"v":0.45},{"s":"after trypsine","B":1.70,"v":0.4},{"s":"after trypsine","B":1.73,"v":0.38},{"s":"after trypsine","B":1.76,"v":-0.05},{"s":"after trypsine","B":1.80,"v":-0.1},{"s":"after trypsine","B":1.83,"v":-0.13},{"s":"after trypsine","B":1.88,"v":-0.3},{"s":"after trypsine","B":1.93,"v":-0.57},{"s":"after trypsine","B":1.96,"v":-0.8},{"s":"after trypsine","B":2.00,"v":-0.9},{"s":"after trypsine","B":2.03,"v":-1.68},{"s":"after trypsine","B":2.08,"v":-2.1},{"s":"after trypsine","B":2.11,"v":-2.8},{"s":"after trypsine","B":2.15,"v":-3.08},{"s":"after trypsine","B":2.18,"v":-3.9},{"s":"after trypsine","B":2.21,"v":-3.98},{"s":"after trypsine","B":2.24,"v":-4.28},{"s":"after trypsine","B":2.27,"v":-4.28},{"s":"after trypsine","B":2.31,"v":-4.78},{"s":"after trypsine","B":2.35,"v":-4.65},{"s":"after trypsine","B":2.41,"v":-4.5},{"s":"after trypsine","B":2.44,"v":-3.98},{"s":"after trypsine","B":2.49,"v":-3.95},{"s":"after trypsine","B":2.52,"v":-3.5},{"s":"after trypsine","B":2.56,"v":-3.1},{"s":"after trypsine","B":2.58,"v":-2.43},{"s":"after trypsine","B":2.61,"v":-2.05},{"s":"after trypsine","B":2.60,"v":-1.45},{"s":"after trypsine","B":2.63,"v":-1.35},{"s":"after trypsine","B":2.67,"v":-0.8},{"s":"after trypsine","B":2.70,"v":-0.58},{"s":"after trypsine","B":2.73,"v":-0.3},{"s":"after trypsine","B":2.76,"v":-0.1},{"s":"after trypsine","B":2.80,"v":0.07},{"s":"after trypsine","B":2.86,"v":0.07},{"s":"after trypsine","B":2.90,"v":0.4},{"s":"after trypsine","B":2.92,"v":0.2},{"s":"after trypsine","B":2.96,"v":0.3},{"s":"after trypsine","B":2.99,"v":0.23},{"s":"after trypsine","B":3.02,"v":0.43},{"s":"after trypsine","B":3.05,"v":0.3},{"s":"after trypsine","B":3.08,"v":0.15},{"s":"after trypsine","B":3.12,"v":0.23},{"s":"after trypsine","B":3.15,"v":0.3},{"s":"after trypsine","B":3.18,"v":0.15},{"s":"after trypsine","B":3.21,"v":-0.26},{"s":"after trypsine","B":3.26,"v":-0.43},{"s":"after trypsine","B":3.31,"v":-0.73},{"s":"after trypsine","B":3.34,"v":-0.85},{"s":"after trypsine","B":3.38,"v":-1.1},{"s":"after trypsine","B":3.40,"v":-1.47},{"s":"after trypsine","B":3.44,"v":-1.63},{"s":"after trypsine","B":3.47,"v":-1.75},{"s":"after trypsine","B":3.50,"v":-2.1},{"s":"after trypsine","B":3.57,"v":-2.2},{"s":"after trypsine","B":3.60,"v":-2.07},{"s":"after trypsine","B":3.63,"v":-2.25},{"s":"after trypsine","B":3.66,"v":-2.1},{"s":"after trypsine","B":3.69,"v":-1.65},{"s":"after trypsine","B":3.71,"v":-2.0},{"s":"after trypsine","B":3.73,"v":-1.75},{"s":"after trypsine","B":3.80,"v":-1.35},{"s":"after trypsine","B":3.86,"v":-1.1},{"s":"after trypsine","B":3.90,"v":-0.4},{"s":"after trypsine","B":3.93,"v":-0.35},{"s":"after trypsine","B":3.96,"v":-0.2},{"s":"after trypsine","B":3.99,"v":0.05},{"s":"after trypsine","B":4.04,"v":0.2},{"s":"after trypsine","B":4.09,"v":0.35},{"s":"after trypsine","B":4.13,"v":0.47},{"s":"after trypsine","B":4.20,"v":0.56},{"s":"after trypsine","B":4.26,"v":0.68},{"s":"after trypsine","B":4.29,"v":0.77},{"s":"after trypsine","B":4.33,"v":0.62},{"s":"after trypsine","B":4.36,"v":0.56},{"s":"after trypsine","B":4.42,"v":0.68},{"s":"after trypsine","B":4.47,"v":0.75},{"s":"after trypsine","B":4.52,"v":0.52},{"s":"after trypsine","B":4.58,"v":0.56},{"s":"after trypsine","B":4.63,"v":0.72},{"s":"after trypsine","B":4.68,"v":0.64},{"s":"after trypsine","B":4.73,"v":0.7},{"s":"after trypsine","B":4.78,"v":0.93},{"s":"after trypsine","B":4.81,"v":0.68},{"s":"after trypsine","B":4.87,"v":0.64},{"s":"after trypsine","B":4.92,"v":0.72},{"s":"after trypsine","B":4.97,"v":0.6},{"s":"after trypsine","B":5.02,"v":0.62},{"s":"after trypsine","B":5.07,"v":0.48},{"s":"after trypsine","B":5.13,"v":0.35},{"s":"after trypsine","B":5.17,"v":0.07},{"s":"after trypsine","B":5.23,"v":-0.18},{"s":"after trypsine","B":5.28,"v":-0.35},{"s":"after trypsine","B":5.33,"v":-0.55},{"s":"after trypsine","B":5.36,"v":-0.8},{"s":"after trypsine","B":5.40,"v":-1.1},{"s":"after trypsine","B":5.46,"v":-1.26},{"s":"after trypsine","B":5.52,"v":-1.35},{"s":"after trypsine","B":5.57,"v":-1.43},{"s":"after trypsine","B":5.60,"v":-1.5},{"s":"after trypsine","B":5.62,"v":-1.22},{"s":"after trypsine","B":5.65,"v":-1.1},{"s":"after trypsine","B":5.71,"v":-0.85},{"s":"after trypsine","B":5.74,"v":-0.64},{"s":"after trypsine","B":5.81,"v":-0.18},{"s":"after trypsine","B":5.84,"v":-0.05},{"s":"after trypsine","B":5.87,"v":0.28},{"s":"after trypsine","B":5.92,"v":0.32},{"s":"after trypsine","B":5.98,"v":0.52},{"s":"after trypsine","B":6.03,"v":0.6},{"s":"after trypsine","B":6.07,"v":0.77},{"s":"after trypsine","B":6.10,"v":0.6},{"s":"after trypsine","B":6.17,"v":0.85},{"s":"after trypsine","B":6.23,"v":0.8},{"s":"after trypsine","B":6.30,"v":0.9},{"s":"after trypsine","B":6.36,"v":0.85},{"s":"after trypsine","B":6.43,"v":0.97},{"s":"after trypsine","B":6.49,"v":1.1},{"s":"after trypsine","B":6.55,"v":0.95},{"s":"after trypsine","B":6.60,"v":1.05},{"s":"after trypsine","B":6.65,"v":1.0},{"s":"after trypsine","B":6.70,"v":0.92},{"s":"after trypsine","B":6.75,"v":1.02},{"s":"after trypsine","B":6.80,"v":0.97},{"s":"after trypsine","B":6.85,"v":1.04},{"s":"after trypsine","B":6.90,"v":0.95},{"s":"after trypsine","B":6.95,"v":1.0},{"s":"after trypsine","B":7.00,"v":0.93},{"s":"after trypsine","B":7.05,"v":1.03},{"s":"after trypsine","B":7.10,"v":0.98},{"s":"after trypsine","B":7.15,"v":1.06},{"s":"after trypsine","B":7.20,"v":0.96},{"s":"after trypsine","B":7.25,"v":1.01},{"s":"after trypsine","B":7.30,"v":0.94},{"s":"after trypsine","B":7.35,"v":1.03},{"s":"after trypsine","B":7.40,"v":0.99},{"s":"after trypsine","B":7.45,"v":1.05},{"s":"after trypsine","B":7.50,"v":0.95},{"s":"after trypsine","B":7.55,"v":1.02},{"s":"after trypsine","B":7.60,"v":0.97},{"s":"after trypsine","B":7.65,"v":1.04},{"s":"after trypsine","B":7.70,"v":0.96},{"s":"after trypsine","B":7.75,"v":1.0},{"s":"after trypsine","B":7.80,"v":0.93},{"s":"after trypsine","B":7.85,"v":1.02},{"s":"after trypsine","B":7.90,"v":0.98},{"s":"after trypsine","B":7.95,"v":1.05},{"s":"after trypsine","B":8.00,"v":0.96},{"s":"after trypsine","B":8.05,"v":1.0}
  ],
  "bfit": [
    {"B":0,"v":0.99},{"B":0.33,"v":0.97},{"B":0.7,"v":0.94},{"B":1.0,"v":0.89},{"B":1.3,"v":0.78},{"B":1.5,"v":0.63},{"B":1.63,"v":0.49},{"B":1.76,"v":0.23},{"B":1.89,"v":-0.2},{"B":1.98,"v":-0.9},{"B":2.05,"v":-1.68},{"B":2.11,"v":-2.45},{"B":2.21,"v":-3.6},{"B":2.28,"v":-4.4},{"B":2.34,"v":-4.97},{"B":2.41,"v":-4.4},{"B":2.5,"v":-3.35},{"B":2.59,"v":-2.3},{"B":2.65,"v":-1.3},{"B":2.7,"v":-0.7},{"B":2.8,"v":-0.25},{"B":2.92,"v":-0.05},{"B":3.02,"v":0.0},{"B":3.12,"v":-0.06},{"B":3.22,"v":-0.2},{"B":3.35,"v":-0.62},{"B":3.44,"v":-1.2},{"B":3.54,"v":-1.8},{"B":3.63,"v":-2.28},{"B":3.7,"v":-1.7},{"B":3.77,"v":-1.1},{"B":3.9,"v":-0.5},{"B":4.03,"v":0.15},{"B":4.22,"v":0.55},{"B":4.4,"v":0.68},{"B":4.6,"v":0.7},{"B":4.85,"v":0.68},{"B":5.0,"v":0.55},{"B":5.1,"v":0.3},{"B":5.2,"v":-0.05},{"B":5.3,"v":-0.45},{"B":5.4,"v":-0.95},{"B":5.48,"v":-1.3},{"B":5.55,"v":-1.47},{"B":5.62,"v":-1.3},{"B":5.71,"v":-0.93},{"B":5.84,"v":-0.26},{"B":5.97,"v":0.33},{"B":6.1,"v":0.65},{"B":6.25,"v":0.84},{"B":6.49,"v":0.94},{"B":6.81,"v":0.98},{"B":7.46,"v":1.0},{"B":8.3,"v":1.0}
  ]
},
"hconcat": [
  {
    "width": 432, "height": 282,
    "layer": [
      {
        "data": {"name": "et"},
        "mark": {"type": "point", "filled": false, "size": 26, "strokeWidth": 1, "opacity": 0.85},
        "encoding": {
          "x": {"field": "t", "type": "quantitative", "scale": {"domain": [0, 10], "nice": false}, "axis": {"values": [0,1,2,3,4,5,6,7,8,9,10], "title": "Time after enzyme injection [h]", "titleX": 204, "titlePadding": 6}},
          "y": {"field": "v", "type": "quantitative", "scale": {"domain": [-13, 1], "nice": false}, "axis": {"values": [-12,-10,-8,-6,-4,-2,0], "title": "Enhancement E(3.9 W)", "titlePadding": -3, "labelExpr": "replace(datum.label, '\u2212', '-')"}},
          "stroke": {"field": "s", "type": "nominal", "scale": {"domain": ["HSA-Et-mal C", "HSA-Et/Et-mal C", "HSA-Et/Et-mal T"], "range": ["#77ac30", "#4dbeee", "#a2142f"]}, "legend": {"title": null, "orient": "none", "legendX": 214, "legendY": 17, "symbolSize": 40, "symbolStrokeWidth": 1, "labelOffset": 17, "rowPadding": 0.5}}
        }
      },
      {
        "data": {"name": "me"},
        "mark": {"type": "point", "filled": false, "size": 26, "strokeWidth": 1, "opacity": 0.85},
        "encoding": {
          "x": {"field": "t", "type": "quantitative", "axis": null},
          "y": {"field": "v", "type": "quantitative", "axis": null},
          "color": {"field": "s", "type": "nominal", "scale": {"domain": ["HSA-Me-mal C", "HSA-Me/Me-mal C", "HSA-Me/Me-mal T"], "range": ["#d95319", "#edb120", "#7e2f8e"]}, "legend": {"title": null, "orient": "none", "legendX": 214, "legendY": 140, "symbolSize": 40, "symbolStrokeWidth": 1, "labelOffset": 17, "rowPadding": -1}}
        }
      },
      {
        "data": {"name": "etfit"},
        "mark": {"type": "line", "strokeWidth": 2, "interpolate": "monotone"},
        "encoding": {
          "x": {"field": "t", "type": "quantitative", "axis": null},
          "y": {"field": "v", "type": "quantitative", "axis": null},
          "stroke": {"field": "s", "type": "nominal", "legend": null}
        }
      },
      {
        "data": {"name": "mefit"},
        "mark": {"type": "line", "strokeWidth": 2, "interpolate": "monotone"},
        "encoding": {
          "x": {"field": "t", "type": "quantitative", "axis": null},
          "y": {"field": "v", "type": "quantitative", "axis": null},
          "color": {"field": "s", "type": "nominal", "legend": null}
        }
      },
      {
        "data": {"values": [{"label": "(a)", "t": 0.74, "v": -10.69}]},
        "mark": {"type": "text", "align": "left", "baseline": "middle", "fontSize": 20, "color": "#333333"},
        "encoding": {
          "x": {"field": "t", "type": "quantitative", "axis": null},
          "y": {"field": "v", "type": "quantitative", "axis": null},
          "text": {"field": "label"}
        }
      },
      {
        "data": {"name": "xt_a"},
        "mark": {"type": "rule", "color": "#262626", "strokeWidth": 1.5},
        "encoding": {
          "x": {"field": "t", "type": "quantitative", "axis": null},
          "y": {"datum": 1, "type": "quantitative", "axis": null},
          "y2": {"datum": 0.64}
        }
      },
      {
        "data": {"name": "xt_a"},
        "mark": {"type": "rule", "color": "#262626", "strokeWidth": 1.5},
        "encoding": {
          "x": {"field": "t", "type": "quantitative", "axis": null},
          "y": {"datum": -13, "type": "quantitative", "axis": null},
          "y2": {"datum": -12.64}
        }
      },
      {
        "data": {"name": "yt_a"},
        "mark": {"type": "rule", "color": "#262626", "strokeWidth": 1.5},
        "encoding": {
          "y": {"field": "v", "type": "quantitative", "axis": null},
          "x": {"datum": 0, "type": "quantitative", "axis": null},
          "x2": {"datum": 0.16}
        }
      },
      {
        "data": {"name": "yt_a"},
        "mark": {"type": "rule", "color": "#262626", "strokeWidth": 1.5},
        "encoding": {
          "y": {"field": "v", "type": "quantitative", "axis": null},
          "x": {"datum": 10, "type": "quantitative", "axis": null},
          "x2": {"datum": 9.84}
        }
      }
    ],
    "resolve": {"axis": {"x": "independent", "y": "independent"}}
  },
  {
    "width": 427, "height": 282,
    "layer": [
      {
        "data": {"name": "bt"},
        "mark": {"type": "point", "filled": false, "size": 52, "opacity": 0.9},
        "encoding": {
          "x": {"field": "B", "type": "quantitative", "scale": {"domain": [0, 8.3], "nice": false}, "axis": {"values": [0,1,2,3,4,5,6,7,8], "title": "Hyperpolarization field Bₕᵧₚ [mT]", "titleX": 223, "titlePadding": 6}},
          "y": {"field": "v", "type": "quantitative", "scale": {"domain": [-5, 2], "nice": false}, "axis": {"values": [-5,-4,-3,-2,-1,0,1,2], "title": "Enhancement E(3.9 W)", "titlePadding": 16, "labelExpr": "replace(datum.label, '\u2212', '-')"}},
          "color": {"field": "s", "type": "nominal", "scale": {"domain": ["before trypsine", "after trypsine", "fit"], "range": ["#0000ff", "#ff0000", "#ff0000"]}, "legend": {"title": null, "orient": "none", "legendX": 225, "legendY": 172, "symbolSize": 40, "labelOffset": 11, "rowPadding": 14}},
          "shape": {"field": "s", "type": "nominal", "scale": {"domain": ["before trypsine", "after trypsine", "fit"], "range": ["circle", "circle", "M-2.6,0H2.6"]}, "legend": {"title": null, "orient": "none", "legendX": 225, "legendY": 172, "symbolSize": 40, "labelOffset": 11, "rowPadding": 14}},
          "strokeWidth": {"field": "s", "type": "nominal", "scale": {"domain": ["before trypsine", "after trypsine", "fit"], "range": [1, 1, 2.5]}, "legend": {"title": null, "orient": "none", "legendX": 225, "legendY": 172, "symbolSize": 40, "labelOffset": 11, "rowPadding": 14}}
        }
      },
      {
        "data": {"name": "bfit"},
        "mark": {"type": "line", "color": "#ff0000", "strokeWidth": 2.5, "interpolate": "monotone"},
        "encoding": {
          "x": {"field": "B", "type": "quantitative", "axis": null},
          "y": {"field": "v", "type": "quantitative", "axis": null}
        }
      },
      {
        "data": {"values": [{"label": "(b)", "B": 0.62, "v": -3.93}]},
        "mark": {"type": "text", "align": "left", "baseline": "middle", "fontSize": 20, "color": "#333333"},
        "encoding": {
          "x": {"field": "B", "type": "quantitative", "axis": null},
          "y": {"field": "v", "type": "quantitative", "axis": null},
          "text": {"field": "label"}
        }
      },
      {
        "data": {"name": "xt_b"},
        "mark": {"type": "rule", "color": "#262626", "strokeWidth": 1.5},
        "encoding": {
          "x": {"field": "B", "type": "quantitative", "axis": null},
          "y": {"datum": 2, "type": "quantitative", "axis": null},
          "y2": {"datum": 1.83}
        }
      },
      {
        "data": {"name": "xt_b"},
        "mark": {"type": "rule", "color": "#262626", "strokeWidth": 1.5},
        "encoding": {
          "x": {"field": "B", "type": "quantitative", "axis": null},
          "y": {"datum": -5, "type": "quantitative", "axis": null},
          "y2": {"datum": -4.83}
        }
      },
      {
        "data": {"name": "yt_b"},
        "mark": {"type": "rule", "color": "#262626", "strokeWidth": 1.5},
        "encoding": {
          "y": {"field": "v", "type": "quantitative", "axis": null},
          "x": {"datum": 0, "type": "quantitative", "axis": null},
          "x2": {"datum": 0.136}
        }
      }
    ],
    "resolve": {"axis": {"x": "independent", "y": "independent"}}
  }
]
}
